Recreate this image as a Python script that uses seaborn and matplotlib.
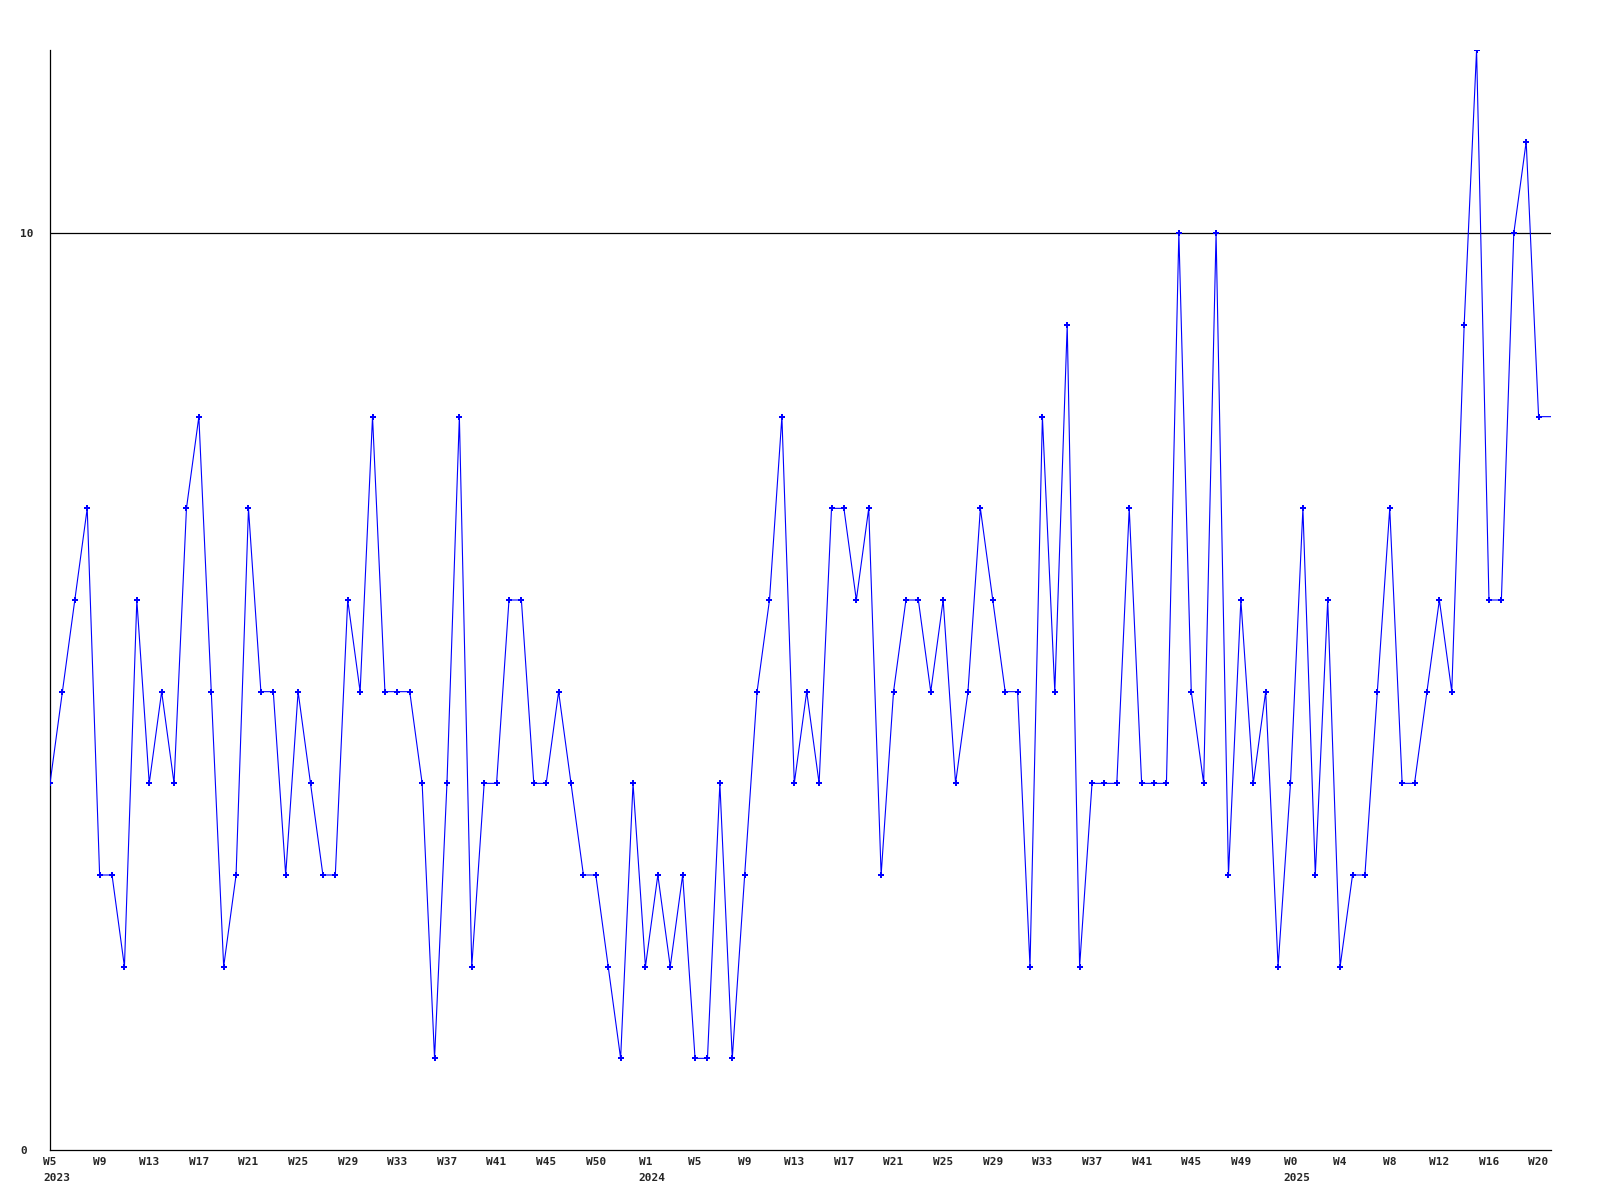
import numpy as np
import pandas as pd
import matplotlib
matplotlib.use("Agg")
import matplotlib.pyplot as plt
import seaborn as sns

# ---- data (weekly counts, 2023 W5 .. 2025 W20+) ----
values = [4, 5, 6, 7, 3, 3, 2, 6, 4, 5,
          4, 7, 8, 5, 2, 3, 7, 5, 5, 3,
          5, 4, 3, 3, 6, 5, 8, 5, 5, 5,
          4, 1, 4, 8, 2, 4, 4, 6, 6, 4,
          4, 5, 4, 3, 3, 2, 1, 4, 2, 3,
          2, 3, 1, 1, 4, 1, 3, 5, 6, 8,
          4, 5, 4, 7, 7, 6, 7, 3, 5, 6,
          6, 5, 6, 4, 5, 7, 6, 5, 5, 2,
          8, 5, 9, 2, 4, 4, 4, 7, 4, 4,
          4, 10, 5, 4, 10, 3, 6, 4, 5, 2,
          4, 7, 3, 6, 2, 3, 3, 5, 7, 4,
          4, 5, 6, 5, 9, 12, 6, 6, 10, 11,
          8, 8]
week_labels = ["W5", "W9", "W13", "W17", "W21", "W25", "W29", "W33", "W37", "W41",
               "W45", "W50", "W1", "W5", "W9", "W13", "W17", "W21", "W25", "W29",
               "W33", "W37", "W41", "W45", "W49", "W0", "W4", "W8", "W12", "W16", "W20"]
year_labels = ["2023", "2024", "2025"]
year_label_weeks = ["W5", "W1", "W0"]
y_ticks = [0, 10]
y_tick_labels = ["0", "10"]

df = pd.DataFrame({"week": np.arange(len(values)), "count": values})
tick_pos = np.arange(0, 4 * len(week_labels), 4)
year_pos = [0, 48, 100]

sns.set_style("white")
plt.rcParams["font.family"] = ["DejaVu Sans Mono", "DejaVu Sans"]

fig = plt.figure(figsize=(16, 12), dpi=100)
ax = fig.add_axes([50 / 1600, 50 / 1200, 1501 / 1600, 1100 / 1200])

# reference line at 10
ax.axhline(10, color="black", linewidth=0.9, zorder=1)

sns.lineplot(data=df, x="week", y="count", ax=ax, color="#0000ff",
             linewidth=0.8, marker="P", markersize=4, markeredgewidth=0,
             markevery=list(range(len(values) - 1)), zorder=3)

ax.set_xlim(0, len(values) - 1)
ax.set_ylim(0, 12)
ax.set_xlabel("")
ax.set_ylabel("")

for s in ["top", "right"]:
    ax.spines[s].set_visible(False)
for s in ["left", "bottom"]:
    ax.spines[s].set_color("black")
    ax.spines[s].set_linewidth(0.9)

ax.set_yticks(y_ticks)
ax.set_yticklabels(y_tick_labels, fontsize=8, fontweight="bold")
ax.tick_params(axis="y", length=0, pad=21.5)
for t in ax.get_yticklabels():
    t.set_horizontalalignment("left")

ax.set_xticks(tick_pos)
ax.set_xticklabels(week_labels, fontsize=8, fontweight="bold")
ax.tick_params(axis="x", length=0, pad=5)

cw = 0.602 * 8  # approx char width in points
for yl, wk, xp in zip(year_labels, year_label_weeks, year_pos):
    ax.annotate(yl, xy=(xp, 0), xycoords="data",
                xytext=(-len(wk) * cw / 2, -16.5), textcoords="offset points",
                ha="left", va="top", fontsize=8, fontweight="bold",
                annotation_clip=False)

ax.grid(False)
fig.savefig("out.png", dpi=100, facecolor="white")
